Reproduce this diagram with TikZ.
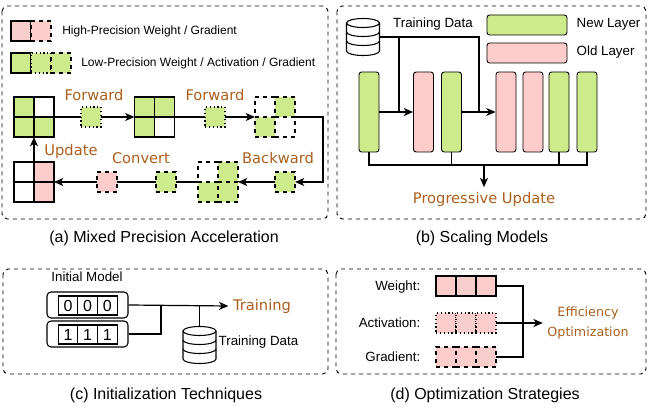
\documentclass[tikz,border=0pt]{standalone}
\usepackage{fontspec}
\setmainfont{Liberation Sans}
\newfontfamily\handfont{DejaVu Sans}
\usepackage{xcolor}
\usepackage{tikz}
\usetikzlibrary{shapes,arrows.meta,positioning}

\definecolor{lowgreen}{HTML}{CDEB8B}
\definecolor{highpink}{HTML}{FFCCCC}
\definecolor{greypink}{HTML}{F8CECC}
\definecolor{labelbrown}{HTML}{AA5F1C}

\tikzset{
  panel/.style={draw, dashed, rounded corners=4pt, line width=0.7pt},
  cell/.style={draw, line width=0.9pt, minimum size=15pt, inner sep=0pt, outer sep=0pt},
  digit/.style={cell, minimum width=14.75pt, minimum height=14.25pt, font=\fontsize{12}{13}\selectfont},
  layer/.style={draw, rounded corners=2pt, line width=0.7pt, minimum width=15pt, minimum height=60pt, inner sep=0pt},
  keybox/.style={draw, rounded corners=2pt, line width=0.7pt, minimum width=60pt, minimum height=15pt},
  hand/.style={text=labelbrown, font=\handfont\fontsize{11}{13}\selectfont},
  caption/.style={font=\fontsize{12}{14}\selectfont},
  note/.style={font=\fontsize{10}{12}\selectfont},
  legtext/.style={font=\fontsize{9}{11}\selectfont, anchor=west, inner sep=0pt},
  link/.style={line width=0.9pt},
  flow/.style={link, ->},
  database/.pic={
    \draw[fill=white, line width=0.8pt] (-16.5,-14) -- (-16.5,14) arc[start angle=180, end angle=0, x radius=16.5, y radius=4.5] -- (16.5,-14);
    \draw[fill=white, line width=0.8pt] (0,-14) ellipse [x radius=16.5, y radius=4.5];
    \draw[line width=0.8pt] (-16.5,-5) arc[start angle=180, end angle=0, x radius=16.5, y radius=4.5];
    \draw[line width=0.8pt] (-16.5,4) arc[start angle=180, end angle=0, x radius=16.5, y radius=4.5];
    \coordinate (-east) at (16.5,0);
    \coordinate (-top) at (0,-18.5);
  }
}

\begin{document}
\begin{tikzpicture}[x=0.75pt, y=-0.75pt, >={Stealth[length=7pt,width=6pt,inset=2pt]}]
\useasboundingbox (0,0) rectangle (664,409);

% panels
\draw[panel] (2,6) rectangle (328,219);
\draw[panel] (337,6) rectangle (646,219);
\draw[panel] (3,269) rectangle (328,374);
\draw[panel] (336,269) rectangle (646,374);

% (a) legend
\node[cell, fill=greypink] (hpw) at (21,31) {};
\node[cell, fill=highpink, dashed, right=0pt of hpw] (hpg) {};
\node[legtext] (hptext) at (62,31) {High-Precision Weight / Gradient};
\node[cell, fill=lowgreen] (lpw) at (21,63) {};
\node[cell, fill=lowgreen, dotted, right=0pt of lpw] (lpa) {};
\node[cell, fill=lowgreen, dashed, right=0pt of lpa] (lpg) {};
\node[legtext] (lptext) at (81,63) {Low-Precision Weight / Activation / Gradient};

% (a) weights before
\node[cell, fill=lowgreen] (ma1) at (24,107) {};
\node[cell, right=0pt of ma1] (ma2) {};
\node[cell, fill=lowgreen, below=0pt of ma1] (ma3) {};
\node[cell, fill=lowgreen, below=0pt of ma2] (ma4) {};
% (a) second layer
\node[cell, fill=lowgreen] (mb1) at (144.5,107) {};
\node[cell, fill=lowgreen, right=0pt of mb1] (mb2) {};
\node[cell, fill=lowgreen, below=0pt of mb1] (mb3) {};
\node[cell, below=0pt of mb2] (mb4) {};
% (a) activation
\node[cell, dashed] (ac1) at (265,107) {};
\node[cell, dashed, fill=lowgreen, right=0pt of ac1] (ac2) {};
\node[cell, dashed, fill=lowgreen, below=0pt of ac1] (ac3) {};
\node[cell, dashed, below=0pt of ac2] (ac4) {};
% (a) gradient
\node[cell, dashed] (gr1) at (208,172) {};
\node[cell, dashed, fill=lowgreen, right=0pt of gr1] (gr2) {};
\node[cell, dashed, fill=lowgreen, below=0pt of gr1] (gr3) {};
\node[cell, dashed, fill=lowgreen, below=0pt of gr2] (gr4) {};
% (a) updated weights
\node[cell] (up1) at (24,172) {};
\node[cell, fill=highpink, right=0pt of up1] (up2) {};
\node[cell, below=0pt of up1] (up3) {};
\node[cell, fill=highpink, below=0pt of up2] (up4) {};

\node[cell, dashed, fill=lowgreen] (bw) at (285,182) {};

\coordinate (turn) at (323,117);
\draw[flow] (ma2.south east) -- (mb1.south west);
\draw[flow] (mb2.south east) -- (ac1.south west);
\draw[flow] (ac2.south east) -- (turn) |- (bw.east);
\draw[flow] (bw.west) -- (gr2.south east);
\draw[flow] (gr1.south west) -- (up2.south east);
\draw[flow] (up1.north east) -- (ma3.south east);

\node[cell, dotted, fill=lowgreen] (fa) at (91,117) {};
\node[cell, dotted, fill=lowgreen] (fb) at (215,117) {};
\node[cell, dashed, fill=lowgreen] (cg) at (166,182) {};
\node[cell, dashed, fill=highpink] (cp) at (107,182) {};

\node[hand] (fwd1) at (94,95) {Forward};
\node[hand] (fwd2) at (215,95) {Forward};
\node[hand] (upd) at (71,151) {Update};
\node[hand] (cvt) at (141,158) {Convert};
\node[hand] (bwd) at (278,158) {Backward};
\node[caption] (capa) at (164,238) {(a) Mixed Precision Acceleration};

% (b) scaling models
\pic (dbb) at (363,37) {database};
\node[note] (tdb) at (433,24) {Training Data};
\node[keybox, fill=lowgreen] (newkey) at (527,25) {};
\node[note, anchor=west] (newtxt) at (572,24) {New Layer};
\node[keybox, fill=highpink] (oldkey) at (527,53) {};
\node[note, anchor=west] (oldtxt) at (572,52) {Old Layer};

\node[layer, fill=lowgreen] (ly1) at (369,112) {};
\node[layer, fill=highpink] (ly2) at (423.5,112) {};
\node[layer, fill=lowgreen] (ly3) at (451.5,112) {};
\node[layer, fill=highpink] (ly4) at (506,112) {};
\node[layer, fill=highpink] (ly5) at (533,112) {};
\node[layer, fill=lowgreen] (ly6) at (559,112) {};
\node[layer, fill=lowgreen] (ly7) at (587,112) {};

\coordinate (tap1) at (399,37);
\coordinate (tap2) at (479,37);
\draw[link] (dbb-east) -- (tap2) -- (tap2 |- ly4.west);
\draw[link] (tap1) -- (tap1 |- ly2.west);
\draw[flow] (ly1.east) -- (ly2.west);
\draw[flow] (ly3.east) -- (ly4.west);

\coordinate (bus) at (484,165);
\node[hand] (prog) at (484,199) {Progressive Update};
\draw[link] (ly1.south) |- (ly7.south |- bus) -- (ly7.south);
\draw[link] (ly3.south) -- (ly3.south |- bus);
\draw[link] (ly6.south) -- (ly6.south |- bus);
\draw[flow] (bus) -- (prog.north);
\node[caption] (capb) at (482,238) {(b) Scaling Models};

% (c) initialization
\node[note] (imtxt) at (87,277) {Initial Model};
\node[draw, fill=white, rounded corners=3pt, line width=0.8pt, minimum width=60.75pt, minimum height=19.5pt] (init0) at (87.5,305) {};
\node[digit] (z1) at (68,305.5) {0};
\node[digit, right=0pt of z1] (z2) {0};
\node[digit, right=0pt of z2] (z3) {0};
\node[draw, fill=white, rounded corners=3pt, line width=0.8pt, minimum width=60.75pt, minimum height=19.5pt] (init1) at (87.5,334) {};
\node[digit] (o1) at (68,334.5) {1};
\node[digit, right=0pt of o1] (o2) {1};
\node[digit, right=0pt of o2] (o3) {1};

\node[hand] (train) at (262,306) {Training};
\coordinate (mrg) at (161,306);
\draw[flow] (init0.east) -- (train.west);
\draw[link] (init1.east) -| (mrg);
\pic (dbc) at (199.5,345) {database};
\draw[link] (dbc-top) -- (dbc-top |- train.west);
\node[note, anchor=west] (tdc) at (214,342) {Training Data};
\node[caption] (capc) at (166,395) {(c) Initialization Techniques};

% (d) optimization
\node[cell, fill=highpink] (wt1) at (446,286) {};
\node[cell, fill=greypink, right=0pt of wt1] (wt2) {};
\node[cell, fill=highpink, right=0pt of wt2] (wt3) {};
\node[cell, dotted, fill=highpink] (at1) at (446,323) {};
\node[cell, dotted, fill=greypink, right=0pt of at1] (at2) {};
\node[cell, dotted, fill=highpink, right=0pt of at2] (at3) {};
\node[cell, dashed, fill=highpink] (gd1) at (446,357) {};
\node[cell, dashed, fill=highpink, right=0pt of gd1] (gd2) {};
\node[cell, dashed, fill=greypink, right=0pt of gd2] (gd3) {};

\node[note, anchor=east] (wtlab) at (425,287) {Weight:};
\node[note, anchor=east] (atlab) at (425,323) {Activation:};
\node[note, anchor=east] (gdlab) at (425,357) {Gradient:};

\coordinate (join) at (523,323);
\node[hand, align=center, font=\handfont\fontsize{9.5}{15}\selectfont] (eff) at (588,323) {Efficiency\\Optimization};
\draw[link] (wt3.east) -| (join) |- (gd3.east);
\draw[flow] (at3.east) -- (eff.west);
\node[caption] (capd) at (485,395) {(d) Optimization Strategies};
\end{tikzpicture}
\end{document}
